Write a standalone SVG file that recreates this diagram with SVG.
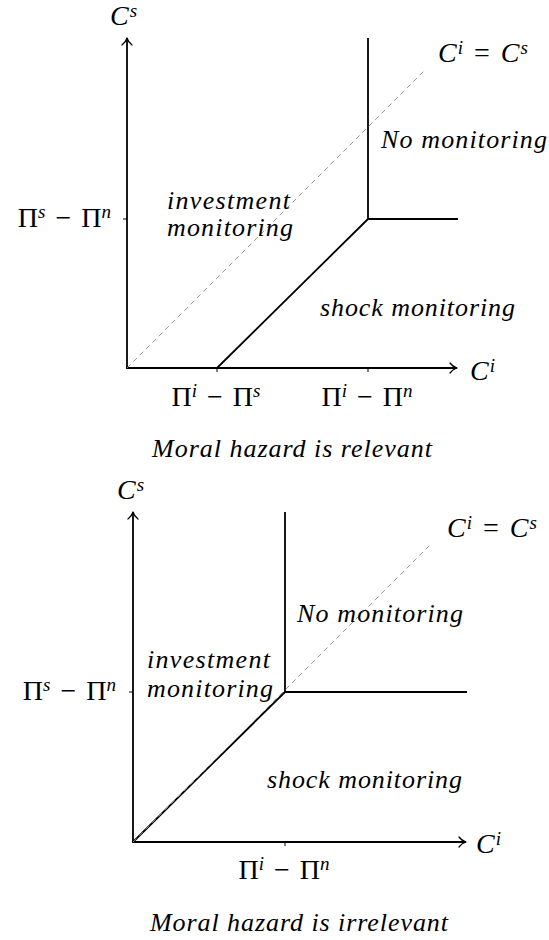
<svg xmlns="http://www.w3.org/2000/svg" width="549" height="940" viewBox="0 0 549 940">
<style>
text { font-family: "Liberation Serif", "DejaVu Serif", serif; font-size: 26px; fill: #000; }
.it { font-style: italic; }
.m { font-size: 28px; }
.sup { font-size: 19px; font-style: italic; }
.ax { stroke: #000; stroke-width: 1.8; fill: none; }
.bd { stroke: #000; stroke-width: 1.8; fill: none; stroke-linejoin: miter; }
.dash { stroke: #8a8a8a; stroke-width: 0.9; stroke-dasharray: 5 4; fill: none; }
.tick { stroke: #000; stroke-width: 1; }
</style>
<defs>
<marker id="arr" markerUnits="userSpaceOnUse" markerWidth="14" markerHeight="14" viewBox="-10 -7 14 14" refX="0" refY="0" orient="auto" overflow="visible">
<path d="M-7,-5 C-5,-2.2 -2,-0.6 0,0 C-2,0.6 -5,2.2 -7,5" fill="none" stroke="#000" stroke-width="1.3" stroke-linecap="round" stroke-linejoin="round"/>
</marker>
</defs>

<g id="panel-top">
  <g id="top-axes">
    <path class="ax" d="M127,368 V38" marker-end="url(#arr)"/>
    <path class="ax" d="M126.1,368 H457" marker-end="url(#arr)"/>
    <path class="tick" d="M217,368 v4 M368,368 v4 M123,219 h4"/>
  </g>
  <g id="top-connectors">
    <path class="bd" d="M368,38 V219 H458"/>
    <path class="bd" d="M217,368 L368,219"/>
    <path class="dash" d="M127,368 L425,70"/>
  </g>
  <g id="top-label-cs"><text class="m it" x="110" y="25">C<tspan class="sup" dx="1" dy="-8">s</tspan></text></g>
  <g id="top-label-diag"><text class="m it" x="438" y="62">C<tspan class="sup" dx="1" dy="-8">i</tspan><tspan dy="8" dx="4" font-style="normal"> = </tspan><tspan dx="4">C</tspan><tspan class="sup" dx="1" dy="-8">s</tspan></text></g>
  <g id="top-no-monitoring"><text class="it" x="381" y="148" textLength="166" lengthAdjust="spacing">No monitoring</text></g>
  <g id="top-investment-monitoring">
    <text class="it" x="167" y="209" textLength="123" lengthAdjust="spacing">investment</text>
    <text class="it" x="167" y="236" textLength="126" lengthAdjust="spacing">monitoring</text>
  </g>
  <g id="top-shock-monitoring"><text class="it" x="320" y="316" textLength="195" lengthAdjust="spacing">shock monitoring</text></g>
  <g id="top-label-ci"><text class="m it" x="470" y="380">C<tspan class="sup" dx="1" dy="-8">i</tspan></text></g>
  <g id="top-tick-is"><text class="m" x="216" y="406" text-anchor="middle">Π<tspan class="sup" dy="-9">i</tspan><tspan dy="9" dx="3"> − </tspan><tspan dx="3">Π</tspan><tspan class="sup" dy="-9">s</tspan></text></g>
  <g id="top-tick-in"><text class="m" x="367" y="406" text-anchor="middle">Π<tspan class="sup" dy="-9">i</tspan><tspan dy="9" dx="3"> − </tspan><tspan dx="3">Π</tspan><tspan class="sup" dy="-9">n</tspan></text></g>
  <g id="top-tick-sn"><text class="m" x="111" y="227" text-anchor="end">Π<tspan class="sup" dy="-9">s</tspan><tspan dy="9" dx="3"> − </tspan><tspan dx="3">Π</tspan><tspan class="sup" dy="-9">n</tspan></text></g>
  <g id="top-caption"><text class="it" x="152" y="457" textLength="280" lengthAdjust="spacing">Moral hazard is relevant</text></g>
</g>

<g id="panel-bottom">
  <g id="bottom-axes">
    <path class="ax" d="M133,842 V512" marker-end="url(#arr)"/>
    <path class="ax" d="M132.1,842 H466" marker-end="url(#arr)"/>
    <path class="tick" d="M285,842 v4 M129,692 h4"/>
  </g>
  <g id="bottom-connectors">
    <path class="bd" d="M285,512 V692 H467"/>
    <path class="bd" d="M133,842 L285,692"/>
    <path class="dash" d="M133,842 L432,543"/>
  </g>
  <g id="bottom-label-cs"><text class="m it" x="117" y="499">C<tspan class="sup" dx="1" dy="-8">s</tspan></text></g>
  <g id="bottom-label-diag"><text class="m it" x="447" y="537">C<tspan class="sup" dx="1" dy="-8">i</tspan><tspan dy="8" dx="4" font-style="normal"> = </tspan><tspan dx="4">C</tspan><tspan class="sup" dx="1" dy="-8">s</tspan></text></g>
  <g id="bottom-no-monitoring"><text class="it" x="297" y="622" textLength="166" lengthAdjust="spacing">No monitoring</text></g>
  <g id="bottom-investment-monitoring">
    <text class="it" x="147" y="668" textLength="123" lengthAdjust="spacing">investment</text>
    <text class="it" x="147" y="697" textLength="126" lengthAdjust="spacing">monitoring</text>
  </g>
  <g id="bottom-shock-monitoring"><text class="it" x="267" y="788" textLength="195" lengthAdjust="spacing">shock monitoring</text></g>
  <g id="bottom-label-ci"><text class="m it" x="476" y="853">C<tspan class="sup" dx="1" dy="-8">i</tspan></text></g>
  <g id="bottom-tick-in"><text class="m" x="284" y="879" text-anchor="middle">Π<tspan class="sup" dy="-9">i</tspan><tspan dy="9" dx="3"> − </tspan><tspan dx="3">Π</tspan><tspan class="sup" dy="-9">n</tspan></text></g>
  <g id="bottom-tick-sn"><text class="m" x="116" y="700" text-anchor="end">Π<tspan class="sup" dy="-9">s</tspan><tspan dy="9" dx="3"> − </tspan><tspan dx="3">Π</tspan><tspan class="sup" dy="-9">n</tspan></text></g>
  <g id="bottom-caption"><text class="it" x="150" y="931" textLength="298" lengthAdjust="spacing">Moral hazard is irrelevant</text></g>
</g>
</svg>
